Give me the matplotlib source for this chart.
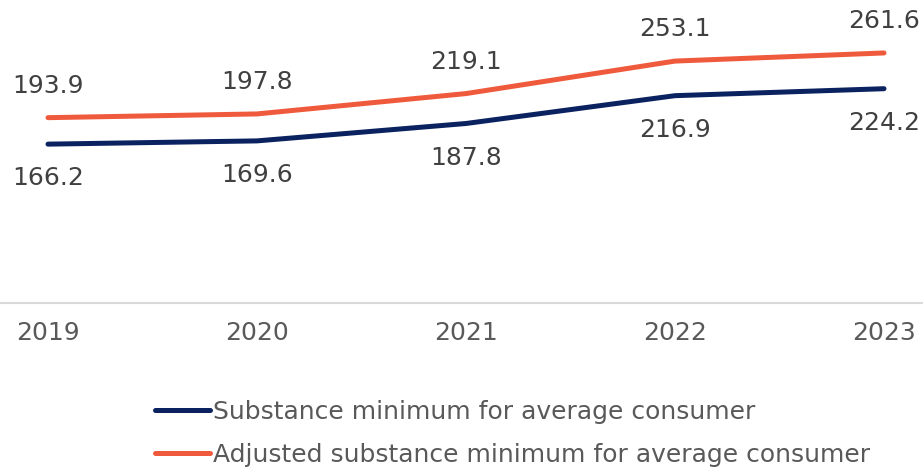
import matplotlib
matplotlib.use("Agg")
import matplotlib.pyplot as plt

plt.rcParams["font.family"] = ["DejaVu Sans"]

years = ["2019", "2020", "2021", "2022", "2023"]
subsistence = [166.2, 169.6, 187.8, 216.9, 224.2]
adjusted = [193.9, 197.8, 219.1, 253.1, 261.6]
series_names = ["Substance minimum for average consumer",
                "Adjusted substance minimum for average consumer"]

navy = "#0b2260"
orange = "#f05a3c"

fig = plt.figure(figsize=(9.23, 4.67), dpi=100)
ax = fig.add_axes([0, 1 - 303 / 467, 1, 303 / 467])
x = list(range(len(years)))
l1, = ax.plot(x, subsistence, color=navy, lw=3.6, solid_capstyle="round")
l2, = ax.plot(x, adjusted, color=orange, lw=3.6, solid_capstyle="round")

fs = 18
for xi, v in zip(x, subsistence):
    ax.annotate(f"{v:.1f}", (xi, v), xytext=(0, -24.5), textcoords="offset points",
                ha="center", va="center", fontsize=fs, color="#404040")
for xi, v in zip(x, adjusted):
    ax.annotate(f"{v:.1f}", (xi, v), xytext=(0, 23), textcoords="offset points",
                ha="center", va="center", fontsize=fs, color="#404040")

ax.set_xlim(-48 / 209, 4 + 39 / 209)
ax.set_ylim(0, 317)
ax.set_xticks(x)
ax.set_xticklabels(years, fontsize=fs, color="#595959")
ax.tick_params(axis="x", length=0, pad=13)
ax.set_yticks([])
for s in ["left", "right", "top"]:
    ax.spines[s].set_visible(False)
ax.spines["bottom"].set_color("#d9d9d9")
ax.spines["bottom"].set_linewidth(1.5)

leg = fig.legend([l1, l2], series_names, loc="upper left",
                 bbox_to_anchor=(155 / 923, 1 - 400 / 467), frameon=False,
                 fontsize=fs, labelcolor="#595959", handlelength=2.2,
                 handletextpad=0.12, borderpad=0, borderaxespad=0, labelspacing=0.75)

fig.savefig("out.png", dpi=100)
